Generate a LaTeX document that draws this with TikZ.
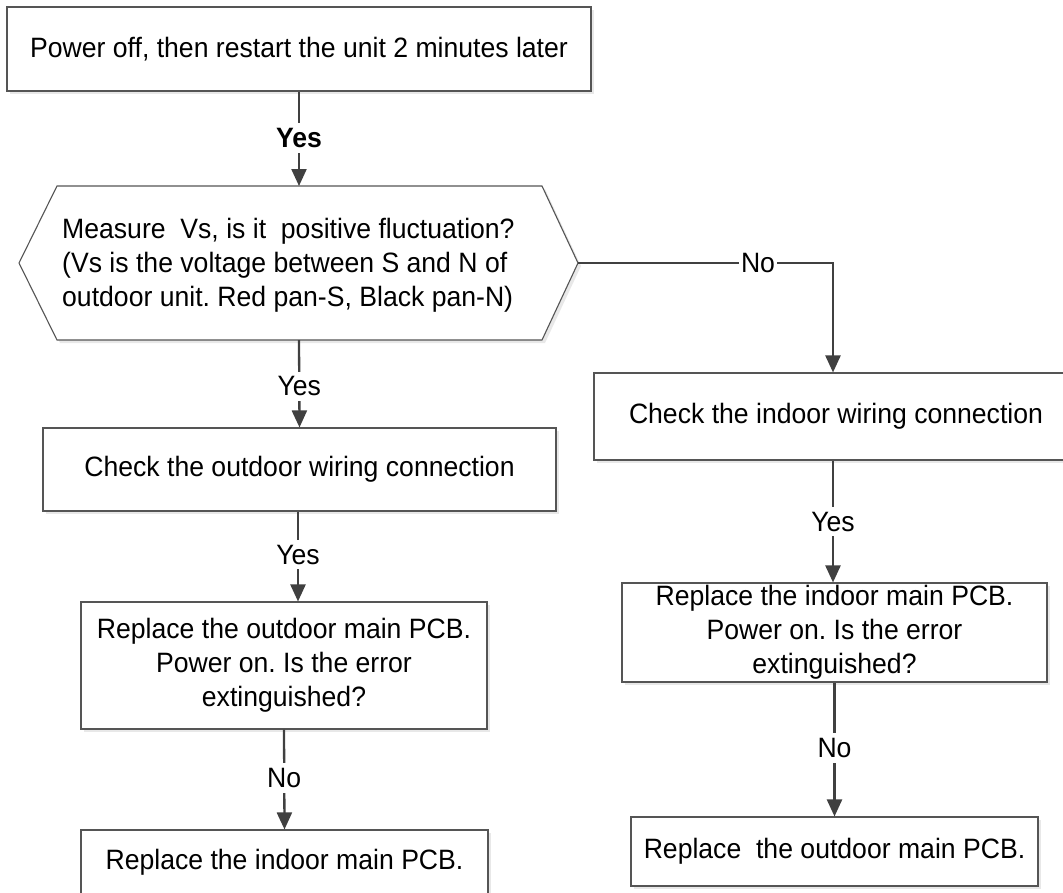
\documentclass[tikz,border=0pt]{standalone}
\usepackage{fontspec}
\setmainfont{Liberation Sans}[FakeStretch=0.95]
\usetikzlibrary{arrows.meta,shadows}
\definecolor{linec}{HTML}{404040}
\definecolor{boxc}{HTML}{555555}
\begin{document}
\frenchspacing
\begin{tikzpicture}[x=1pt,y=-1pt,
  every node/.style={font=\fontsize{28}{34}\selectfont},
  box/.style={draw=boxc, line width=1.1pt, fill=white, inner sep=0pt, align=center,
    drop shadow={shadow xshift=3pt, shadow yshift=-3pt, fill=black!9, opacity=1}},
  conn/.style={draw=linec, line width=2.3pt, -{Triangle[length=17pt,width=15pt]}},
  lbl/.style={fill=white, inner xsep=2pt, inner ysep=5pt, text=black}]
\fill[white] (0,0) rectangle (1063,892);
\useasboundingbox (0,0) rectangle (1063,892);

% boxes
\node[box, minimum width=584pt, minimum height=84pt] (b1) at (299,49)
  {Power off, then restart the unit 2 minutes later};

% hexagon
\coordinate (hexL) at (19,263);
\coordinate (hexR) at (578,263);
\coordinate (hexTop) at (299,186);
\coordinate (hexBot) at (299,340);
\fill[black!9] ([shift={(3,3)}]hexL) -- (60,189) -- (545,189) -- (581,266) -- (545,343) -- (60,343) -- cycle;
\draw[draw=boxc, line width=1.1pt, fill=white] (hexL) -- (57,186) -- (542,186) -- (hexR) -- (542,340) -- (57,340) -- cycle;
\node[anchor=west, align=left, inner sep=0pt] (hexText) at (62,265)
  {Measure\ \ Vs, is it\ \ positive fluctuation?\\(Vs is the voltage between S and N of\\outdoor unit. Red pan-S, Black pan-N)};

\node[box, minimum width=513pt, minimum height=83pt] (outchk) at (299.5,469.5)
  {Check the outdoor wiring connection};
\node[box, minimum width=484pt, minimum height=87pt] (inchk) at (836,416.5)
  {Check the indoor wiring connection};
\node[box, minimum width=406pt, minimum height=127pt] (outrep) at (284,665.5)
  {Replace the outdoor main PCB.\\Power on. Is the error\\extinguished?};
\node[box, minimum width=407pt, minimum height=64pt] (inrepL) at (284.5,862)
  {Replace the indoor main PCB.};
\node[box, minimum width=425pt, minimum height=99pt] (inrepR) at (834.5,632.5)
  {Replace the indoor main PCB.\\Power on. Is the error\\extinguished?};
\node[box, minimum width=407pt, minimum height=69pt] (outrepR) at (834.5,851.5)
  {Replace\ \ the outdoor main PCB.};

% connectors
\draw[conn] (b1.south) -- (hexTop) node[lbl, pos=0.49] (l1) {\textbf{Yes}};
\draw[conn] (hexBot) -- (outchk.north) node[lbl, pos=0.53] (l2) {Yes};
\draw[conn] (hexR) -| (inchk.north -| 833,0) node[lbl, inner ysep=2pt, pos=0.353] (l3) {No};
\draw[conn] (outchk.south -| 298,0) -- (outrep.north -| 298,0) node[lbl, pos=0.48] (l4) {Yes};
\draw[conn] (outrep.south) -- (inrepL.north) node[lbl, pos=0.485] (l5) {No};
\draw[conn] (inchk.south -| 833,0) -- (inrepR.north -| 833,0) node[lbl, pos=0.5] (l6) {Yes};
\draw[conn] (inrepR.south) -- (outrepR.north) node[lbl, pos=0.49] (l7) {No};
\end{tikzpicture}
\end{document}
